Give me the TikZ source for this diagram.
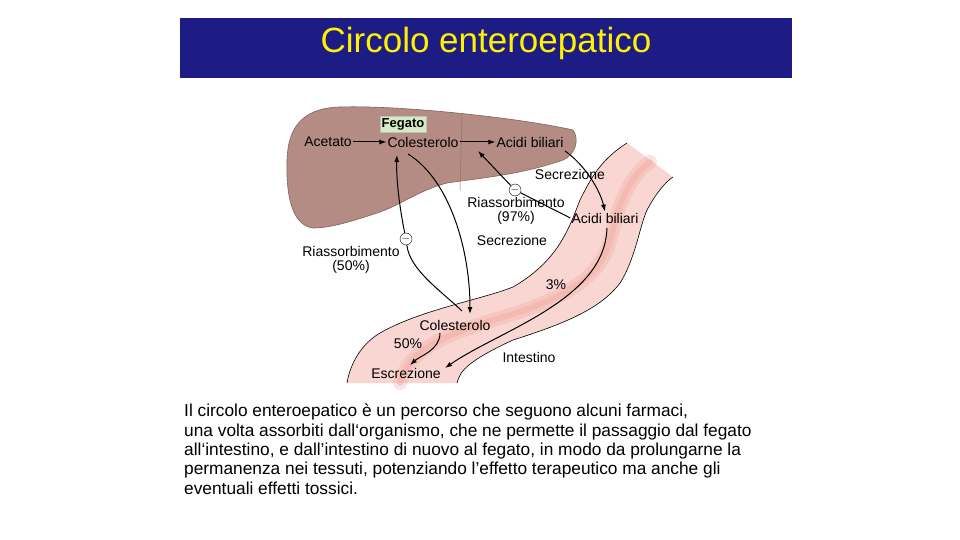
\documentclass[tikz,border=0pt]{standalone}
\usepackage{fontspec}
\setmainfont{Liberation Sans}
\usetikzlibrary{arrows.meta}
\definecolor{navy}{HTML}{1C1C84}
\definecolor{liver}{HTML}{B58C84}
\definecolor{gut}{HTML}{F9D6D2}
\definecolor{gutdark}{HTML}{F0A79C}
\definecolor{fegbox}{HTML}{D6EBC4}
\begin{document}
\begin{tikzpicture}[x=1pt,y=-1pt,
  lbl/.style={inner sep=1pt,font=\fontsize{14}{14}\selectfont},
  arr/.style={-{Latex[length=7pt,width=5pt]},line width=1pt},
  ln/.style={line width=1pt},
  minus/.style={circle,draw,fill=white,inner sep=0pt,minimum size=12pt,font=\fontsize{11}{11}\selectfont}]
\useasboundingbox (0,0) rectangle (960,540);
\fill[white] (0,0) rectangle (960,540);
% title
\fill[navy] (180,18) rectangle (792,78);
\node[text=yellow,font=\fontsize{35}{38}\selectfont] (title) at (486,43) {Circolo enteroepatico};
% liver
\draw[liver!70!black,fill=liver,line width=0.6pt] (313,228) .. controls (290,225) and (286,190) .. (287,160)
  .. controls (288,130) and (300,108) .. (340,107) .. controls (400,105) and (520,118) .. (573,130)
  .. controls (580,140) and (575,155) .. (563,160) .. controls (520,175) and (480,178) .. (447,183)
  .. controls (420,190) and (400,205) .. (380,212) .. controls (350,222) and (330,228) .. (313,228) -- cycle;
\draw[liver!80!black,line width=0.5pt] (462,115) -- (460,190);
% intestine
\fill[gut] (627,143) .. controls (600,160) and (590,180) .. (580,200) .. controls (570,225) and (560,260) .. (513,287)
  .. controls (480,300) and (420,310) .. (380,333) .. controls (360,345) and (350,365) .. (347,383)
  -- (457,383) .. controls (460,370) and (470,360) .. (513,340) .. controls (560,325) and (600,310) .. (620,283)
  .. controls (635,260) and (640,225) .. (647,210) .. controls (655,195) and (665,182) .. (673,177) -- cycle;
\draw[gutdark,line width=14pt,opacity=0.3,line cap=round] (650,162) .. controls (625,180) and (618,210) .. (610,240)
  .. controls (600,280) and (560,300) .. (500,318) .. controls (440,336) and (410,350) .. (400,383);
\draw[gutdark,line width=6pt,opacity=0.4,line cap=round] (650,162) .. controls (625,180) and (618,210) .. (610,240)
  .. controls (600,280) and (560,300) .. (500,318) .. controls (440,336) and (410,350) .. (400,383);
\draw[black,line width=0.6pt] (627,143) .. controls (600,160) and (590,180) .. (580,200) .. controls (570,225) and (560,260) .. (513,287)
  .. controls (480,300) and (420,310) .. (380,333) .. controls (360,345) and (350,365) .. (347,383);
\draw[black,line width=0.6pt] (457,383) .. controls (460,370) and (470,360) .. (513,340) .. controls (560,325) and (600,310) .. (620,283)
  .. controls (635,260) and (640,225) .. (647,210) .. controls (655,195) and (665,182) .. (673,177);
% labels
\node[fill=fegbox,draw=gray!50,inner sep=2pt,font=\bfseries\fontsize{13}{13}\selectfont] (feg) at (403,124) {Fegato};
\node[lbl] (acet) at (328,142) {Acetato};
\node[lbl] (col1) at (423,142) {Colesterolo};
\node[lbl] (ab1) at (530,142) {Acidi biliari};
\node[lbl] (sec1) at (570,174) {Secrezione};
\node[minus] (m1) at (515,190) {$-$};
\node[lbl,align=center] (ria97) at (516,211) {Riassorbimento\\(97\%)};
\node[lbl] (ab2) at (605,218) {Acidi biliari};
\node[lbl] (sec2) at (512,240) {Secrezione};
\node[minus] (m2) at (406,239) {$-$};
\node[lbl,align=center] (ria50) at (351,260) {Riassorbimento\\(50\%)};
\node[lbl] (p3) at (556,285) {3\%};
\node[lbl] (col2) at (455,325) {Colesterolo};
\node[lbl] (p50) at (408,344) {50\%};
\node[lbl] (int) at (529,357) {Intestino};
\node[lbl] (esc) at (406,373) {Escrezione};
% arrows
\draw[arr] (acet) -- (col1);
\draw[arr] (col1) -- (ab1);
\draw[arr] (565,151) .. controls (585,165) and (600,190) .. (ab2.north);
\draw[ln] (ab2.west) -- (m1);
\draw[arr] (m1) -- (478,151);
\draw[arr] (408,154) .. controls (450,180) and (470,250) .. (470,314);
\draw[ln] (462,311) .. controls (440,290) and (410,270) .. (m2);
\draw[arr] (m2) .. controls (400,210) and (396,180) .. (397,155);
\draw[arr] (607,228) .. controls (605,300) and (500,330) .. (445,368);
\draw[arr] (440,333) .. controls (440,350) and (420,356) .. (410,365);
% body text
\node[anchor=north west,align=left,inner sep=0pt,font=\fontsize{17.3}{19.3}\selectfont] (body) at (184,404)
 {Il circolo enteroepatico è un percorso che seguono alcuni farmaci,\\
 una volta assorbiti dall‘organismo, che ne permette il passaggio dal fegato\\
 all‘intestino, e dall'intestino di nuovo al fegato, in modo da prolungarne la\\
 permanenza nei tessuti, potenziando l'effetto terapeutico ma anche gli\\
 eventuali effetti tossici.};
\end{tikzpicture}
\end{document}
